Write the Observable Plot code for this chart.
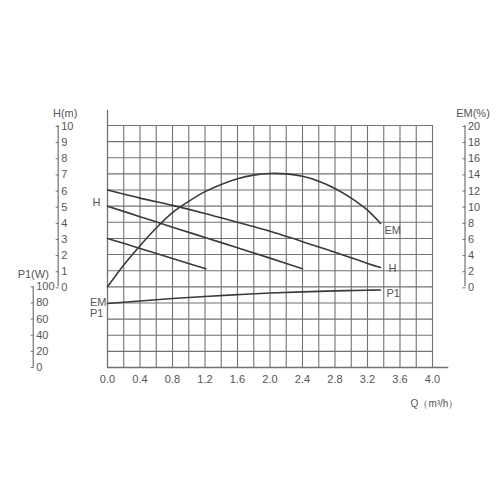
<!DOCTYPE html>
<html><head><meta charset="utf-8">
<script src="https://cdn.jsdelivr.net/npm/d3@7"></script>
<script src="https://cdn.jsdelivr.net/npm/@observablehq/plot@0.6"></script>
<style>
body{margin:0;background:#fff;font-family:"Liberation Sans",Arial,sans-serif}
#chart{width:500px;height:500px}
</style>
</head><body><div id="chart"></div>
<script>
// ---- tick labels / grid ----
const qTicks = [0.0, 0.4, 0.8, 1.2, 1.6, 2.0, 2.4, 2.8, 3.2, 3.6, 4.0];
const qGrid = [0.2, 0.4, 0.6, 0.8, 1.0, 1.2, 1.4, 1.6, 1.8, 2.0, 2.2, 2.4, 2.6, 2.8, 3.0, 3.2, 3.4, 3.6, 3.8, 4.0];
const hTicks = [0, 1, 2, 3, 4, 5, 6, 7, 8, 9, 10];
const hGrid = [-4, -3, -2, -1, 0, 1, 2, 3, 4, 5, 6, 7, 8, 9, 10];
const emTicks = [0, 2, 4, 6, 8, 10, 12, 14, 16, 18, 20];
const p1Ticks = [0, 20, 40, 60, 80, 100];

// ---- series ----
const h1Q = [0, 0.4, 0.8, 1.2, 1.6, 2.0, 2.4, 2.8, 3.2, 3.36];
const h1H = [6.0, 5.5, 5.05, 4.55, 4.0, 3.45, 2.8, 2.15, 1.45, 1.2];
const h2Q = [0, 0.4, 0.8, 1.2, 1.6, 2.0, 2.4];
const h2H = [5.0, 4.35, 3.7, 3.06, 2.42, 1.78, 1.12];
const h3Q = [0, 0.4, 0.8, 1.21];
const h3H = [3.0, 2.38, 1.75, 1.12];
const emQ = [0, 0.2, 0.4, 0.6, 0.8, 1.0, 1.2, 1.4, 1.6, 1.8, 2.0, 2.2, 2.4, 2.6, 2.8, 3.0, 3.2, 3.36];
const emV = [0, 2.7, 5.1, 7.3, 9.2, 10.6, 11.8, 12.7, 13.4, 13.85, 14.05, 14.0, 13.7, 13.1, 12.2, 11.0, 9.5, 7.85];
const p1Q = [0, 0.4, 0.8, 1.2, 1.6, 2.0, 2.4, 2.8, 3.2, 3.36];
const p1V = [79.4, 82.5, 85.5, 88.0, 90.3, 92.3, 93.8, 95.0, 95.8, 96.0];

// secondary-axis conversions onto the H(m) scale
const emToH = e => e / 2;
const p1ToH = p => p / 20 - 5;
const pts = (qs, vs, f = v => v) => qs.map((q, i) => ({q, h: f(vs[i])}));

const H1 = pts(h1Q, h1H), H2 = pts(h2Q, h2H), H3 = pts(h3Q, h3H);
const EM = pts(emQ, emV, emToH), P1 = pts(p1Q, p1V, p1ToH);

// layout (axis-line positions in Q units)
const hAxisQ = -0.607, emAxisQ = 4.40, p1AxisQ = -0.914;
const TXT = "#555", GRID = "#727272", CURVE = "#3a3a3a";
const font = {fontSize: 11, fill: TXT};

const chart = Plot.plot({
  width: 500, height: 500,
  marginLeft: 107, marginRight: 68, marginTop: 125, marginBottom: 133,
  style: {fontFamily: "'Liberation Sans', Arial, sans-serif", background: "#fff"},
  x: {domain: [0, 4], axis: null},
  y: {domain: [-5, 10], axis: null},
  marks: [
    // grid
    Plot.ruleX(qGrid, {x: d => d, y1: -5, y2: 10, stroke: GRID, strokeWidth: 1.1}),
    Plot.ruleY(hGrid, {y: d => d, x1: 0, x2: 4, stroke: GRID, strokeWidth: 1.1}),
    // main axes
    Plot.ruleX([0], {y1: -5, y2: 10.95, stroke: GRID, strokeWidth: 1.3}),
    Plot.ruleY([-5], {x1: 0, x2: 4.2, stroke: GRID, strokeWidth: 1.3}),
    Plot.axisX(qTicks, {tickSize: 0, tickPadding: 8, tickFormat: d => d.toFixed(1), label: null, ...font}),
    // H axis
    Plot.ruleX([hAxisQ], {y1: 0, y2: 10, stroke: GRID, strokeWidth: 1.2}),
    Plot.axisY(hTicks, {anchor: "right", dx: -377.3, dy: 1, tickSize: 3, tickPadding: 3, stroke: GRID, label: null, ...font}),
    Plot.text(["H(m)"], {x: hAxisQ, y: 10, dx: 7, dy: -12.5, ...font}),
    // EM axis
    Plot.ruleX([emAxisQ], {y1: 0, y2: 10, stroke: GRID, strokeWidth: 1.2}),
    Plot.axisY(emTicks.map(emToH), {anchor: "right", dx: 29.5, dy: 1, tickSize: 3, tickPadding: 3, stroke: GRID, label: null, tickFormat: h => String(Math.round(h * 2)), ...font}),
    Plot.text(["EM(%)"], {x: emAxisQ, y: 10, dx: 8, dy: -12.5, ...font}),
    // P1 axis
    Plot.ruleX([p1AxisQ], {y1: -5, y2: 0, stroke: GRID, strokeWidth: 1.2}),
    Plot.axisY(p1Ticks.map(p1ToH), {anchor: "right", dx: -402.3, tickSize: 3, tickPadding: 3, stroke: GRID, label: null, tickFormat: h => String(Math.round((h + 5) * 20)), ...font}),
    Plot.text(["P1(W)"], {x: p1AxisQ, y: 0, dx: 0, dy: -12.5, ...font}),
    // Q label
    Plot.text(["Q（m³/h）"], {x: 4, y: -5, dx: 2, dy: 36, fontSize: 10, fill: TXT}),
    // curves
    Plot.line(H1, {x: "q", y: "h", curve: "catmull-rom", stroke: CURVE, strokeWidth: 1.6}),
    Plot.line(H2, {x: "q", y: "h", curve: "catmull-rom", stroke: CURVE, strokeWidth: 1.6}),
    Plot.line(H3, {x: "q", y: "h", curve: "catmull-rom", stroke: CURVE, strokeWidth: 1.6}),
    Plot.line(EM, {x: "q", y: "h", curve: "catmull-rom", stroke: CURVE, strokeWidth: 1.6}),
    Plot.line(P1, {x: "q", y: "h", curve: "catmull-rom", stroke: CURVE, strokeWidth: 1.6}),
    // curve labels (right)
    Plot.text([EM[EM.length - 1]], {x: "q", y: "h", text: () => "EM", dx: 4, dy: 7, textAnchor: "start", ...font}),
    Plot.text([H1[H1.length - 1]], {x: "q", y: "h", text: () => "H", dx: 8, dy: 1, textAnchor: "start", ...font}),
    Plot.text([P1[P1.length - 1]], {x: "q", y: "h", text: () => "P1", dx: 6, dy: 3, textAnchor: "start", ...font}),
    // curve labels (left)
    Plot.text([{q: h1Q[0], h: (h1H[0] + h2H[0]) / 2}], {x: "q", y: "h", text: () => "H", dx: -7, dy: 4, textAnchor: "end", ...font}),
    Plot.text([P1[0]], {x: "q", y: "h", text: () => "EM", dx: -1, dy: -1, textAnchor: "end", ...font}),
    Plot.text([P1[0]], {x: "q", y: "h", text: () => "P1", dx: -4, dy: 10, textAnchor: "end", ...font})
  ]
});
document.getElementById("chart").appendChild(chart);
</script>
</body></html>
